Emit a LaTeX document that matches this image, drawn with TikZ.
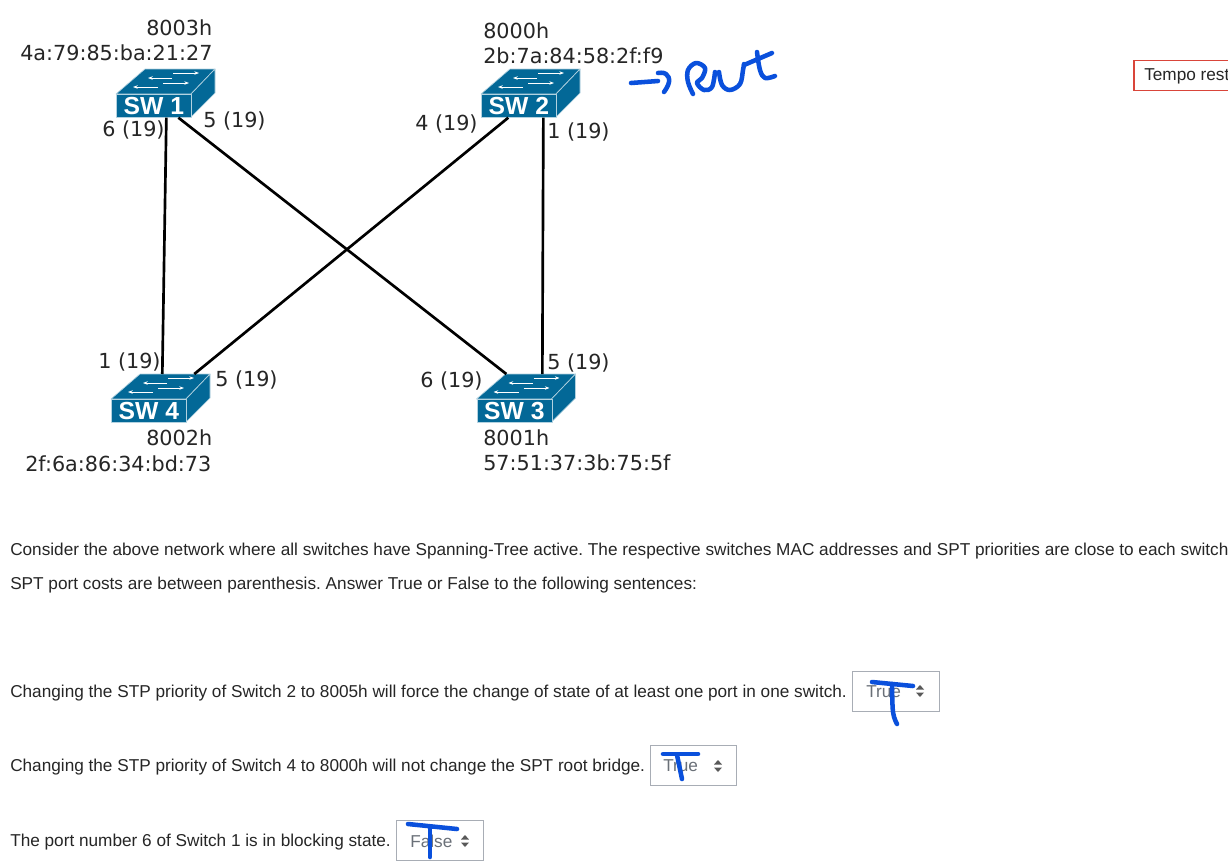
\documentclass[tikz,border=0pt]{standalone}
\usepackage{fontspec}
\setmainfont{Liberation Sans}
\newfontfamily\dv{DejaVu Sans}
\usetikzlibrary{arrows.meta}
\definecolor{swblue}{HTML}{036897}
\definecolor{inkblue}{HTML}{0A50DC}
\definecolor{boxgrey}{HTML}{A8ADB5}
\definecolor{seltext}{HTML}{6A7078}
\definecolor{tempored}{HTML}{D9453A}
\frenchspacing
\tikzset{
  x=0.75pt,y=-0.75pt,
  swface/.style={fill=swblue,draw=white!70!swblue,line width=0.5pt,line join=round},
  swfront/.style={swface,draw,minimum width=56.25pt,minimum height=17.25pt,inner sep=0pt,text=white,font=\fontsize{18.5}{18.5}\selectfont\bfseries},
  swarrow/.style={white,line width=0.7pt,-{Stealth[length=3.5pt,width=2.6pt]}},
  link/.style={black,line width=2pt},
  lab/.style={font=\dv\fontsize{15.55}{15.55}\selectfont,text=black!85,inner sep=0pt,anchor=base west},
  body/.style={font=\fontsize{12.9}{12.9}\selectfont,text=black!85,inner sep=0pt,anchor=base west},
  selectbox/.style={draw=boxgrey,line width=0.7pt,fill=white},
  seltxt/.style={font=\fontsize{12.9}{12.9}\selectfont,text=seltext,inner sep=0pt,anchor=base west},
  ink/.style={inkblue,line width=3.4pt,line cap=round,line join=round},
}
\newcommand{\swnode}[4]{% name, x, y of front top-left, label
  \begin{scope}[shift={(#2,#3)}]
    \filldraw[swface] (0,0) -- (29,-25) -- (99,-25) -- (75,0) -- cycle;
    \filldraw[swface] (75,0) -- (99,-25) -- (99,-1) -- (75,23) -- cycle;
    \draw[swarrow] (42,-7) -- (17,-7);
    \draw[swarrow] (47,-11) -- (73,-11);
    \draw[swarrow] (56,-16) -- (32,-16);
    \draw[swarrow] (57,-21) -- (83,-21);
  \end{scope}
  \node[swfront,anchor=north west] (#1) at (#2,#3) {#4};
}
\newcommand{\updown}[2]{% chooser arrows
  \fill[black!65] (#1-4,#2-1.5) -- (#1,#2-6) -- (#1+4,#2-1.5) -- cycle;
  \fill[black!65] (#1-4,#2+1.5) -- (#1,#2+6) -- (#1+4,#2+1.5) -- cycle;
}
\begin{document}
\begin{tikzpicture}
\useasboundingbox (0,0) rectangle (1228,861);
\fill[white] (0,0) rectangle (1228,861);

\swnode{swa}{116}{94}{SW 1}
\swnode{swb}{481}{94}{SW 2}
\swnode{swd}{111}{399}{SW 4}
\swnode{swc}{476.5}{399}{SW 3}

% links: 1 px = 0.75 pt; far ends meet the back edge of the roof
\draw[link] ([xshift=9.4pt]swa.south) -- ([xshift=10.1pt,yshift=18.75pt]swd.north);
\draw[link] ([xshift=18.4pt]swa.south) -- ([xshift=-6pt,yshift=18.75pt]swc.north);
\draw[link] ([xshift=-7.9pt]swb.south) -- ([xshift=34.1pt,yshift=18.75pt]swd.north);
\draw[link] ([xshift=18.4pt]swb.south) -- ([xshift=21pt,yshift=18.75pt]swc.north);

% priorities and MAC addresses
\node[lab] (pa) at (146,35) {8003h};
\node[lab] (ma) at (20,60) {4a:79:85:ba:21:27};
\node[lab] (pb) at (483,38) {8000h};
\node[lab] (mb) at (483,63) {2b:7a:84:58:2f:f9};
\node[lab] (pd) at (146,445) {8002h};
\node[lab] (md) at (25,471) {2f:6a:86:34:bd:73};
\node[lab] (pc) at (483,445) {8001h};
\node[lab] (mc) at (483,470) {57:51:37:3b:75:5f};

% port labels
\node[lab] (l1) at (102,136) {6 (19)};
\node[lab] (l2) at (203,127) {5 (19)};
\node[lab] (l3) at (415,130) {4 (19)};
\node[lab] (l4) at (547,138) {1 (19)};
\node[lab] (l5) at (98,368) {1 (19)};
\node[lab] (l6) at (215,386) {5 (19)};
\node[lab] (l7) at (420,387) {6 (19)};
\node[lab] (l8) at (547,369) {5 (19)};

% timer box
\draw[tempored,line width=0.8pt] (1240,60.5) -- (1134,60.5) -- (1134,90.5) -- (1240,90.5);
\node[body] (tempo) at (1144,80) {Tempo rest};

% question
\node[body] (q1) at (10,555) {Consider the above network where all switches have Spanning-Tree active. The respective switches MAC addresses and SPT priorities are close to each switch};
\node[body] (q2) at (10,589) {SPT port costs are between parenthesis. Answer True or False to the following sentences:};
\node[body] (s1) at (10,697) {Changing the STP priority of Switch 2 to 8005h will force the change of state of at least one port in one switch.};
\node[body] (s2) at (10,771) {Changing the STP priority of Switch 4 to 8000h will not change the SPT root bridge.};
\node[body] (s3) at (10,846) {The port number 6 of Switch 1 is in blocking state.};

% choosers
\draw[selectbox] (852.5,671.5) rectangle (939,711);
\node[seltxt] (a1) at (866,697) {True};
\updown{920}{691}
\draw[selectbox] (650,745.5) rectangle (736.5,785);
\node[seltxt] (a2) at (663,771) {True};
\updown{718}{766}
\draw[selectbox] (396,820.5) rectangle (483.5,860.5);
\node[seltxt] (a3) at (410,847) {False};
\updown{465}{841}

% handwriting
\draw[ink] (631,83) -- (658,81);
\draw[ink] plot[smooth,tension=0.8] coordinates {(658,73) (666,74) (669,82) (664,92)};
\draw[ink] plot[smooth,tension=0.6] coordinates {(693,94) (688,82) (688,70) (696,63) (705,68) (702,78) (697,83) (704,90) (712,87) (715,72)};
\draw[ink] plot[smooth,tension=0.6] coordinates {(719,72) (722,85) (730,90) (740,84) (743,70) (744,64)};
\draw[ink] (744,65) -- (772,53);
\draw[ink] plot[smooth,tension=0.6] coordinates {(757,52) (760,70) (765,78) (775,76)};
\draw[ink] (872,682) -- (913,686);
\draw[ink] plot[smooth,tension=0.6] coordinates {(892,684) (893,712) (897,724)};
\draw[ink] (663,754) -- (698,754);
\draw[ink] (677,755) -- (682,779);
\draw[ink] (408,824) -- (457,829);
\draw[ink] (430,828) -- (430,857);
\end{tikzpicture}
\end{document}
